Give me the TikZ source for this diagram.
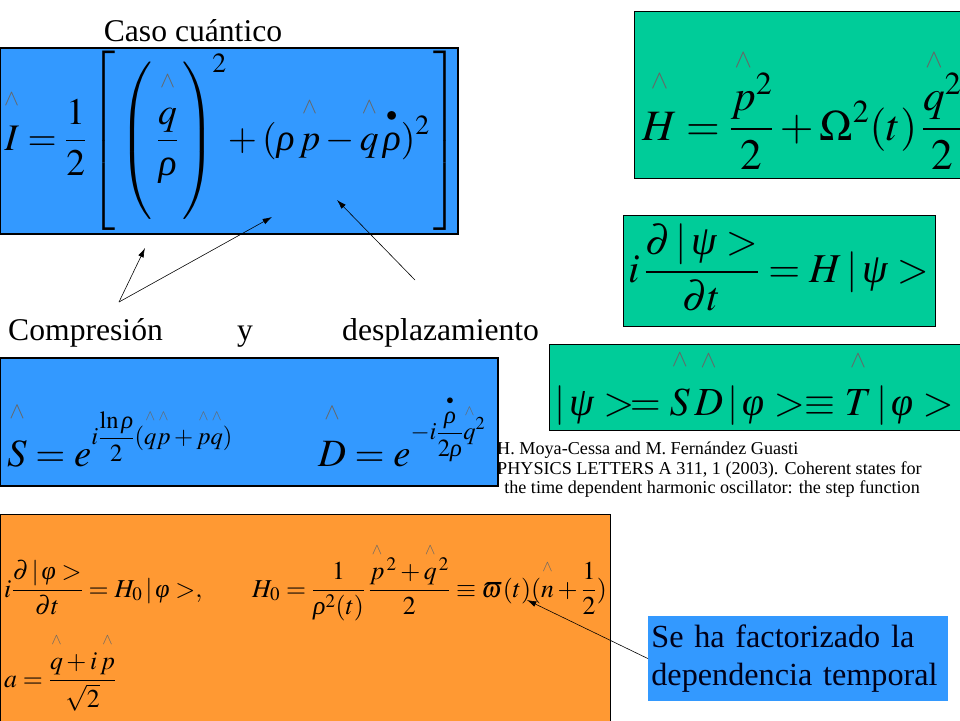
\documentclass[tikz,border=0pt]{standalone}
\usepackage{amsmath}
\usepackage{mathptmx}
\usepackage{fontspec}
\setmainfont{Liberation Serif}
\usetikzlibrary{arrows.meta}
\definecolor{slideblue}{RGB}{51,153,255}
\definecolor{slidegreen}{RGB}{0,204,153}
\definecolor{slideorange}{RGB}{255,153,51}
\newcommand{\hatmark}{\textcolor{black!60}{$\scriptscriptstyle\wedge$}}
\newcommand{\opr}[1]{\mathchoice
  {\overset{\raisebox{.35em}{\hatmark}}{#1}}
  {\overset{\raisebox{.35em}{\hatmark}}{#1}}
  {\overset{\raisebox{.1em}{\scalebox{.6}{\hatmark}}}{#1}}
  {\overset{\raisebox{.1em}{\scalebox{.6}{\hatmark}}}{#1}}}
\newcommand{\bigdot}[1]{\overset{\raisebox{.1em}{$\scriptscriptstyle\bullet$}}{#1}}
\newcommand{\grho}{\text{\itshape ρ}}
\newcommand{\gpsi}{\text{\itshape ψ}}
\newcommand{\gphi}{\text{\itshape φ}}
\newcommand{\fs}[1]{\fontsize{#1}{1.2\dimexpr#1pt\relax}\selectfont}
\newcommand{\expo}[2]{\raisebox{#1}{\fontsize{21}{25}\selectfont$\displaystyle #2$}}
\tikzset{
  panel/.style={draw=black, line width=.6pt},
  eq/.style={inner sep=0pt, anchor=base west},
  pointer/.style={-{Latex[length=8pt,width=5pt]}, line width=.5pt},
}
\begin{document}
\begin{tikzpicture}[x=.03cm,y=-.03cm]
  \useasboundingbox (0,0) rectangle (960,720);
  % panels
  \filldraw[panel, fill=slideblue, line width=1.5pt] (0,48) rectangle (458,234);
  \filldraw[panel, fill=slidegreen] (634,11) rectangle (965,178);
  \filldraw[panel, fill=slidegreen] (623,215) rectangle (935,326);
  \filldraw[panel, fill=slidegreen] (549,344) rectangle (965,430);
  \filldraw[panel, fill=slideblue, line width=1.2pt] (0,358) rectangle (498,486);
  \filldraw[panel, fill=slideorange] (0,514) rectangle (610,725);
  % titles
  \node[font=\fs{27}] (caso) at (193,31) {Caso cuántico};
  \node[eq, font=\fs{27}] (comp) at (8,340) {Compresión};
  \node[eq, font=\fs{27}] (y) at (237,340) {y};
  \node[eq, font=\fs{27}] (desp) at (342,340) {desplazamiento};
  % equations
  \node[eq, font=\fs{32}] (inv) at (4,150) {$\displaystyle \opr{I}=\frac{1}{2}\left[\rule[-2.05em]{0pt}{4.5em}\left(\rule[-1.65em]{0pt}{3.8em}\,\frac{\opr{q}}{\grho}\,\right)^{\!2}\!+(\grho\,\opr{p}-\opr{q}\,\bigdot{\grho})^{2}\,\right]$};
  \node[eq, font=\fs{37}] (ham) at (642,140) {$\displaystyle \opr{H}=\frac{\smash[t]{\opr{p}}^{2}}{2}+\Omega^{2}(t)\,\frac{\smash[t]{\opr{q}}^{2}}{2}$};
  \node[eq, font=\fs{35}] (schr) at (628,282) {$\displaystyle i\,\frac{\partial\,|\,\gpsi >}{\partial t}=H\,|\,\gpsi >$};
  \node[eq, font=\fs{34}] (psi) at (554,415) {$|\,\gpsi >\!=\opr{S}\,\opr{D}\,|\,\gphi >\equiv\opr{T}\,|\,\gphi >$};
  \node[eq, font=\fs{33}] (sq) at (7,466) {$\opr{S}=e^{\expo{4pt}{i\frac{\ln\grho}{2}(\opr{q}\opr{p}+\opr{p}\opr{q})}}$};
  \node[eq, font=\fs{33}] (disp) at (318,466) {$\opr{D}=e^{\expo{4pt}{-i\frac{\bigdot{\grho}}{2\grho}\smash[t]{\opr{q}}^{2}}}$};
  \node[eq, font=\fs{22}] (schr0) at (4,597) {$\displaystyle i\frac{\partial\,|\,\gphi >}{\partial t}=H_{0}\,|\,\gphi >,$};
  \node[eq, font=\fs{22}] (ham0) at (252,597) {$\displaystyle H_{0}=\frac{1}{\grho^{2}(t)}\,\frac{\opr{p}^{\,2}+\opr{q}^{\,2}}{2}\equiv\varpi(t)(\opr{n}+\frac{1}{2})$};
  \node[eq, font=\fs{22}] (ann) at (4,687) {$\displaystyle a=\frac{\opr{q}+i\,\opr{p}}{\sqrt{2}}$};
  % reference
  \node[anchor=north west, inner sep=0pt, align=left, font=\fontsize{15.5}{16.5}\selectfont] (refs) at (497,442)
    {H. Moya-Cessa and M. Fernández Guasti\\
     PHYSICS LETTERS A 311, 1 (2003). Coherent states for\\
     \hspace*{6pt}the time dependent harmonic oscillator: the step function};
  % note
  \node[fill=slideblue, minimum width=9cm, minimum height=2.55cm, text width=8.8cm, align=left,
        text=black!90!blue, font=\fontsize{27.5}{32}\selectfont, inner xsep=.1cm] (fact) at (798,658.5)
    {Se ha factorizado la\\dependencia temporal};
  % pointers
  \coordinate (P) at (119,302);
  \coordinate (A) at (145,248);
  \coordinate (B) at (272,217);
  \coordinate (C) at (415,280);
  \coordinate (D) at (337,200);
  \coordinate (E) at (527,600);
  \draw[pointer] (P) -- (A);
  \draw[pointer] (P) -- (B);
  \draw[pointer] (C) -- (D);
  \draw[pointer] (fact.west) -- (E);
\end{tikzpicture}
\end{document}
